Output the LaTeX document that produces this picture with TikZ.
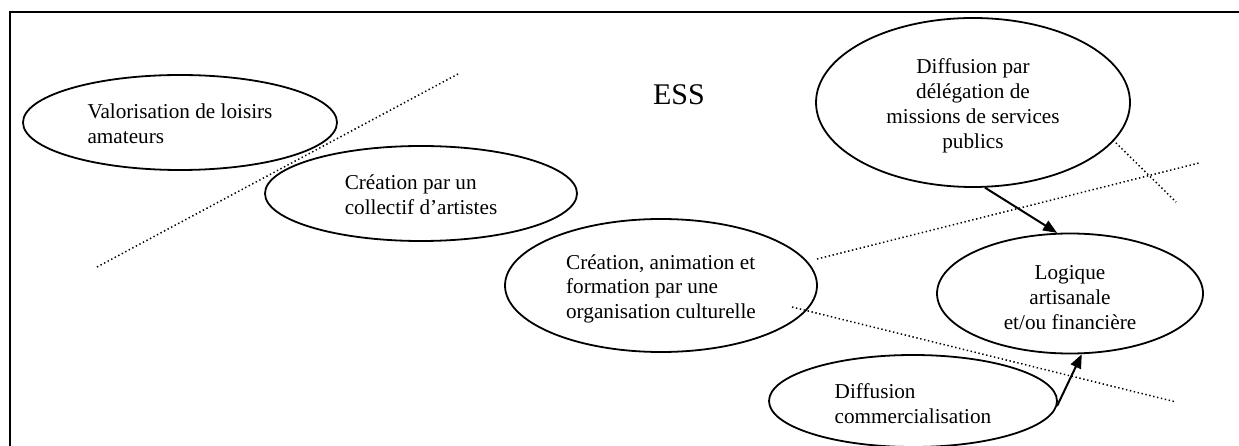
\documentclass[tikz,border=0pt]{standalone}
\usepackage{fontspec}
\setmainfont{Liberation Serif}
\usetikzlibrary{shapes.geometric,arrows.meta}
\newcommand\dropbox[1]{\raisebox{-3.5pt}[\height][\depth]{#1}}
\tikzset{
  oval/.style={ellipse, draw, line width=1.8pt, inner sep=0pt, font=\fontsize{21.2}{24.8}\selectfont},
  sep/.style={line width=1.5pt, dash pattern=on 1.4pt off 2.6pt},
  flow/.style={line width=2pt, -{Triangle[length=14pt,width=11pt]}},
}
\begin{document}
\begin{tikzpicture}[x=1pt,y=-1pt]
\path[use as bounding box] (0,0) rectangle (1239,446);
\draw[line width=2.2pt] (10,470) -- (10,12) -- (1260,12);

\node[oval, minimum width=314pt, minimum height=95pt] (valor) at (180,122.5)
  {\dropbox{\begin{tabular}{@{}l@{}}Valorisation de loisirs\\amateurs\end{tabular}}};
\node[oval, minimum width=312pt, minimum height=95pt] (collectif) at (421,193.5)
  {\dropbox{\begin{tabular}{@{}l@{}}Création par un\\collectif d’artistes\end{tabular}}\hspace{40pt}};
\node[oval, minimum width=312pt, minimum height=133pt] (orga) at (661,285.5)
  {\dropbox{\begin{tabular}{@{}l@{}}Création, animation et\\formation par une\\organisation culturelle\end{tabular}}};
\node[oval, minimum width=314pt, minimum height=169pt] (deleg) at (973,102.5)
  {\dropbox{\begin{tabular}{@{}c@{}}Diffusion par\\délégation de\\missions de services\\publics\end{tabular}}};
\node[oval, minimum width=266pt, minimum height=120pt] (logique) at (1070,293.5)
  {\raisebox{-6pt}[\height][\depth]{\begin{tabular}{@{}c@{}}Logique\\artisanale\\et/ou financière\end{tabular}}\hspace{24pt}};
\node[oval, minimum width=288pt, minimum height=92pt] (commerce) at (913,401)
  {\raisebox{-5pt}[\height][\depth]{\begin{tabular}{@{}l@{}}Diffusion\\commercialisation\end{tabular}}\hspace{18pt}};

\node[font=\fontsize{30}{34}\selectfont, inner sep=0pt] (ess) at (679,95) {ESS};

\coordinate (a1) at (97,267);   \coordinate (a2) at (458,74);
\coordinate (b1) at (817,259);  \coordinate (b2) at (1199,163);
\coordinate (c1) at (1113,140); \coordinate (c2) at (1176,202);
\coordinate (d1) at (792,307);  \coordinate (d2) at (1176,402);
\draw[sep] (a1) -- (a2);
\draw[sep] (b1) -- (b2);
\draw[sep] (c1) -- (c2);
\draw[sep] (d1) -- (d2);

\draw[flow] (deleg.-82) -- (logique.102);
\draw[flow] (commerce.-2) -- (logique.-79);
\end{tikzpicture}
\end{document}
